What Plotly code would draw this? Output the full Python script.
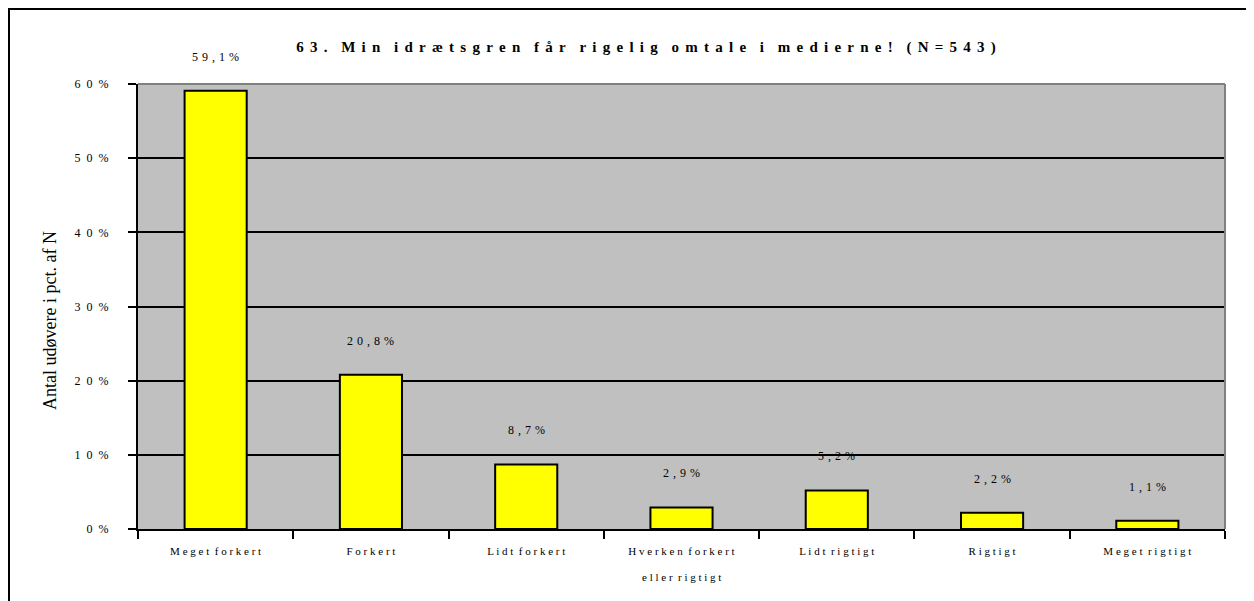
import plotly.graph_objects as go

categories = ["Meget forkert", "Forkert", "Lidt forkert", "Hverken forkert",
              "Lidt rigtigt", "Rigtigt", "Meget rigtigt"]
second_lines = ["", "", "", "eller rigtigt", "", "", ""]
values = [59.1, 20.8, 8.7, 2.9, 5.2, 2.2, 1.1]
y_ticks = [0, 10, 20, 30, 40, 50, 60]
title_text = "63. Min idrætsgren får rigelig omtale i medierne! (N=543)"
y_title = "Antal udøvere i pct. af N"


def spaced(s, sep=" ", wsep="\u2002"):
    words = s.split(" ")
    return wsep.join(sep.join(list(w)) for w in words)


def fmt(v):
    return spaced(f"{v:.1f}".replace(".", ",") + "%", sep="\u2004")


SERIF = "Liberation Serif, Times New Roman, serif"

# page body has an 8px margin: compensate
OFF = 8
W, H = 1254 - OFF, 601 - OFF
L, T = 138 - OFF, 84 - OFF
R = W - (1225 - OFF)
B = H - (529 - OFF)
pw, ph = W - L - R, H - T - B

fig = go.Figure()
fig.add_trace(go.Bar(
    x=categories, y=values, width=0.4,
    marker=dict(color="#FFFF00", line=dict(color="#000000", width=2)),
    hoverinfo="skip",
))

for c, v in zip(categories, values):
    fig.add_annotation(x=c, y=v, yshift=34, text=fmt(v), showarrow=False,
                       font=dict(family=SERIF, size=12, color="#000000"),
                       xref="x", yref="y")

for c, s in zip(categories, second_lines):
    if s:
        fig.add_annotation(x=c, y=0, yshift=-48, text=spaced(s), showarrow=False,
                           font=dict(family=SERIF, size=11, color="#000000"),
                           xref="x", yref="paper", yanchor="middle")

# y-axis title placed as a rotated annotation
fig.add_annotation(x=(50 - 138) / 1087, y=(529 - 321) / 445, xref="paper", yref="paper",
                   text=y_title, textangle=-90, showarrow=False,
                   xanchor="center", yanchor="middle",
                   font=dict(family=SERIF, size=18, color="#000000"))

fig.update_layout(
    width=W, height=H,
    margin=dict(l=L, r=R, t=T, b=B),
    paper_bgcolor="#FFFFFF",
    plot_bgcolor="#C0C0C0",
    showlegend=False,
    title=dict(text=spaced(title_text, sep="\u2005\u2006", wsep="\u2002\u2005\u2006"),
               x=(646 - OFF) / W, xref="container", xanchor="center",
               y=1 - (47 - OFF) / H, yref="container", yanchor="middle",
               font=dict(family=SERIF, size=15, color="#000000", weight="bold")),
    xaxis=dict(
        type="category", tickson="boundaries", ticks="outside", ticklen=8, tickwidth=2,
        tickcolor="#000000", showline=True, linecolor="#000000", linewidth=2,
        showgrid=False, tickvals=categories, ticktext=[spaced(c) for c in categories],
        tickfont=dict(family=SERIF, size=11, color="#000000"),
        ticklabelstandoff=11,
    ),
    yaxis=dict(
        range=[0, 60], tickvals=y_ticks,
        ticktext=[spaced(f"{t}%", sep="\u2002") for t in y_ticks],
        ticks="outside", ticklen=8, tickwidth=2, tickcolor="#000000",
        showline=True, linecolor="#000000", linewidth=2,
        showgrid=True, gridcolor="#000000", gridwidth=2, zeroline=False,
        tickfont=dict(family=SERIF, size=12, color="#000000"),
        ticklabelstandoff=17,
    ),
    shapes=[
        dict(type="line", xref="paper", yref="paper", x0=0, x1=1, y0=1, y1=1,
             line=dict(color="#808080", width=2)),
        dict(type="line", xref="paper", yref="paper", x0=1, x1=1, y0=0, y1=1,
             line=dict(color="#808080", width=2)),
        dict(type="rect", xref="paper", yref="paper",
             x0=(1 - L) / pw, x1=(W + 20 - L) / pw,
             y0=-(B + 20) / ph, y1=(ph + T - 1) / ph,
             line=dict(color="#000000", width=2), fillcolor="rgba(0,0,0,0)", layer="above"),
    ],
)

fig.write_html("out.html")
